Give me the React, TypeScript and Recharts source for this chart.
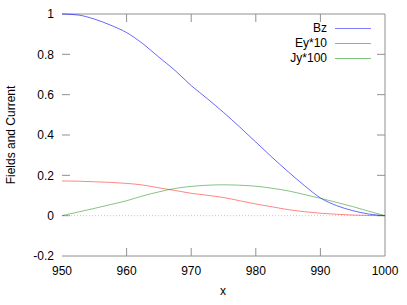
import React from 'react';
import { LineChart, Line, XAxis, YAxis, ReferenceLine } from 'recharts';

// x positions, read every 2.5 units
const xs = [950, 952.5, 955, 957.5, 960, 962.5, 965, 967.5, 970, 972.5, 975, 977.5, 980, 982.5, 985, 987.5, 990, 992.5, 995, 997.5, 1000];
const bz = [1.0, 0.995, 0.975, 0.945, 0.908, 0.853, 0.786, 0.72, 0.645, 0.58, 0.512, 0.44, 0.365, 0.29, 0.218, 0.15, 0.088, 0.05, 0.025, 0.008, 0];
const ey10 = [0.172, 0.171, 0.168, 0.165, 0.16, 0.152, 0.138, 0.125, 0.111, 0.101, 0.09, 0.074, 0.058, 0.044, 0.03, 0.02, 0.012, 0.007, 0.003, 0.001, 0];
const jy100 = [0, 0.018, 0.036, 0.055, 0.074, 0.098, 0.118, 0.135, 0.145, 0.151, 0.153, 0.151, 0.146, 0.136, 0.123, 0.105, 0.086, 0.066, 0.045, 0.022, 0];

const xInnerTicks = [960, 970, 980, 990];
const yInnerTicks = [0, 0.2, 0.4, 0.6, 0.8];

const seriesNames = ['Bz', 'Ey*10', 'Jy*100'];
const seriesColors = ['#0000ff', '#ff0000', '#008000'];

const data = xs.map((x, i) => ({ x, bz: bz[i], ey: ey10[i], jy: jy100[i] }));

const font = '"Liberation Sans", Arial, sans-serif';
const tickStyle = { fontSize: 12, fontFamily: font, fill: '#000' };

// inward tick marks at both ends of a vertical reference line (bottom + mirrored top)
const XTickMarks = (props: any) => {
  const { x1, y1, y2 } = props;
  const top = Math.min(y1, y2);
  const bottom = Math.max(y1, y2);
  return <path d={`M${x1},${top}L${x1},${top + 8}M${x1},${bottom}L${x1},${bottom - 8}`} stroke="#909090" strokeWidth={1} fill="none" />;
};

// inward tick marks at both ends of a horizontal reference line (left + mirrored right)
const YTickMarks = (props: any) => {
  const { x1, y1, x2 } = props;
  const left = Math.min(x1, x2);
  const right = Math.max(x1, x2);
  return <path d={`M${left},${y1}L${left + 8},${y1}M${right},${y1}L${right - 8},${y1}`} stroke="#909090" strokeWidth={1} fill="none" />;
};

export default function App() {
  return (
    <div style={{ width: 407, height: 305, position: 'relative' }}>
      <style>{'body{margin:0}'}</style>
      <LineChart width={407} height={305} data={data} margin={{ top: 14, right: 22, bottom: 0, left: 0 }}>
        <XAxis
          dataKey="x"
          type="number"
          domain={[950, 1000]}
          tickCount={6}
          height={49}
          tickLine={false}
          tickMargin={4}
          stroke="#909090"
          strokeWidth={1}
          tick={tickStyle}
        />
        <YAxis
          type="number"
          domain={[-0.2, 1]}
          tickCount={7}
          width={62}
          tickLine={false}
          axisLine={false}
          tick={tickStyle}
        />
        <ReferenceLine y={1} stroke="#909090" strokeWidth={1} />
        <ReferenceLine x={1000} stroke="#909090" strokeWidth={1} />
        {xInnerTicks.map((t) => (
          <ReferenceLine key={`xt${t}`} x={t} shape={XTickMarks} />
        ))}
        {yInnerTicks.map((t) => (
          <ReferenceLine key={`yt${t}`} y={t} shape={YTickMarks} />
        ))}
        <ReferenceLine y={0} stroke="#c8c8c8" strokeDasharray="1 2" />
        <Line dataKey="bz" name="Bz" type="monotone" stroke={seriesColors[0]} strokeWidth={0.8} strokeOpacity={0.75} dot={false} activeDot={false} isAnimationActive={false} />
        <Line dataKey="ey" name="Ey*10" type="monotone" stroke={seriesColors[1]} strokeWidth={0.8} strokeOpacity={0.6} dot={false} activeDot={false} isAnimationActive={false} />
        <Line dataKey="jy" name="Jy*100" type="monotone" stroke={seriesColors[2]} strokeWidth={0.8} strokeOpacity={0.6} dot={false} activeDot={false} isAnimationActive={false} />
      </LineChart>
      <div style={{ position: 'absolute', left: 211, top: 284, width: 24, textAlign: 'center', fontFamily: font, fontSize: 12, lineHeight: '14px', color: '#000' }}>x</div>
      <div style={{ position: 'absolute', left: 11, top: 135, width: 0, height: 0 }}>
        <div style={{ position: 'absolute', left: -70, top: -7, width: 140, textAlign: 'center', transform: 'rotate(-90deg)', fontFamily: font, fontSize: 12, lineHeight: '14px', color: '#000', whiteSpace: 'nowrap' }}>Fields and Current</div>
      </div>
      <div style={{ position: 'absolute', top: 21, left: 231, width: 140, fontFamily: font, fontSize: 12, color: '#000' }}>
        {seriesNames.map((n, i) => (
          <div key={n} style={{ display: 'flex', justifyContent: 'flex-end', alignItems: 'center', height: 15, lineHeight: '15px' }}>
            <span>{n}</span>
            <svg width={44} height={15} style={{ display: 'block' }}>
              <line x1={8} y1={7.5} x2={44} y2={7.5} stroke={seriesColors[i]} strokeWidth={1} strokeOpacity={0.5} />
            </svg>
          </div>
        ))}
      </div>
    </div>
  );
}
